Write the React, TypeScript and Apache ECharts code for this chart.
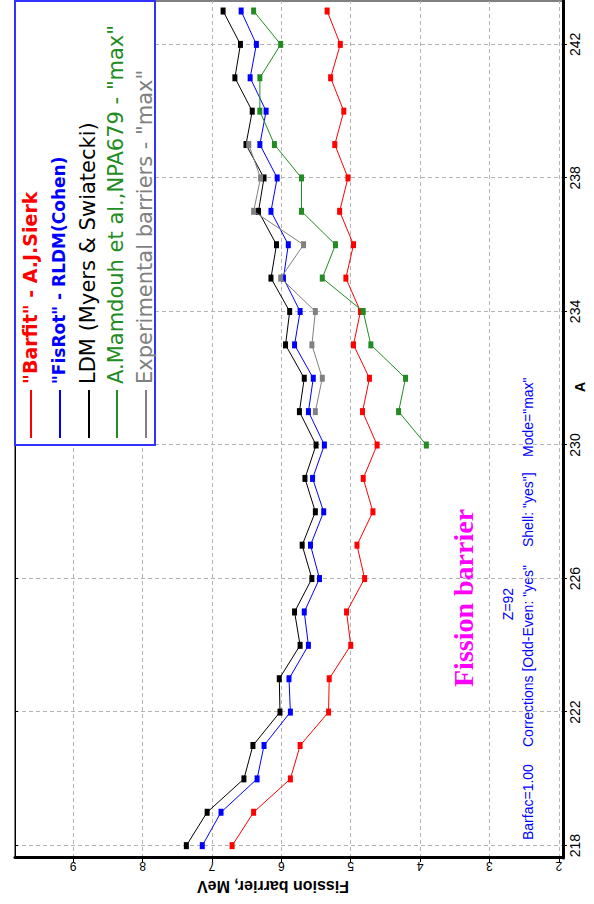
import React, { useEffect, useRef } from "react";
import * as echarts from "echarts";

// Mass numbers A (Z = 92)
const massNumbers = [218, 219, 220, 221, 222, 223, 224, 225, 226, 227, 228, 229, 230, 231, 232, 233, 234, 235, 236, 237, 238, 239, 240, 241, 242, 243];
// "Barfit" - A.J.Sierk
const barfit = [6.71, 6.40, 5.87, 5.73, 5.32, 5.31, 5.00, 5.06, 4.80, 4.91, 4.68, 4.82, 4.62, 4.83, 4.73, 4.96, 4.86, 5.07, 4.96, 5.16, 5.04, 5.23, 5.10, 5.29, 5.15, 5.34];
// "FisRot" - RLDM(Cohen)
const fisrot = [7.14, 6.87, 6.35, 6.25, 5.87, 5.89, 5.61, 5.67, 5.45, 5.58, 5.39, 5.55, 5.38, 5.61, 5.54, 5.81, 5.73, 5.97, 5.90, 6.15, 6.06, 6.31, 6.22, 6.45, 6.36, 6.58];
// LDM (Myers & Swiatecki)
const ldm = [7.37, 7.07, 6.54, 6.41, 6.02, 6.03, 5.73, 5.81, 5.56, 5.70, 5.51, 5.66, 5.50, 5.74, 5.67, 5.94, 5.88, 6.15, 6.07, 6.33, 6.25, 6.51, 6.42, 6.67, 6.59, 6.84];
// A.Mamdouh et al., NPA679
const mamdouhA = [230, 231, 232, 233, 234, 235, 236, 237, 238, 239, 240, 241, 242, 243];
const mamdouh = [3.91, 4.31, 4.21, 4.71, 4.82, 5.41, 5.22, 5.71, 5.71, 6.10, 6.31, 6.31, 6.01, 6.40];
// Experimental barriers
const expA = [231, 232, 233, 234, 235, 236, 237, 238, 239];
const experimental = [5.51, 5.41, 5.56, 5.51, 6.01, 5.68, 6.40, 6.30, 6.47];

const aTicks = [218, 222, 226, 230, 234, 238, 242];
const barrierTicks = [2, 3, 4, 5, 6, 7, 8, 9];

const seriesNames = [
  '"Barfit" - A.J.Sierk',
  '"FisRot" - RLDM(Cohen)',
  "LDM (Myers & Swiatecki)",
  'A.Mamdouh et al.,NPA679 - "max"',
  'Experimental barriers - "max"',
];
const seriesColors = ["#ff0000", "#0000ff", "#000000", "#228b22", "#808080"];

const W = 904;
const H = 594;

export default function App() {
  const ref = useRef<HTMLDivElement>(null);

  useEffect(() => {
    if (!ref.current) return;
    const chart = echarts.init(ref.current, null, { renderer: "svg" });
    const pairs = (xs: number[], ys: number[]) => xs.map((x, i) => [x, ys[i]]);
    const dataSets = [
      pairs(massNumbers, barfit),
      pairs(massNumbers, fisrot),
      pairs(massNumbers, ldm),
      pairs(mamdouhA, mamdouh),
      pairs(expA, experimental),
    ];
    const labelFont = "Liberation Sans, Arial, sans-serif";
    const legendY = [31, 60, 89, 117, 146];
    const legendSizes = [19, 17, 21, 21, 21];
    const legendElems: any[] = [
      {
        type: "rect",
        shape: { x: 459, y: 15, width: 444, height: 140 },
        style: { fill: "#ffffff", stroke: "#3333ff", lineWidth: 2 },
        z: 100,
      },
    ];
    seriesNames.forEach((name, i) => {
      legendElems.push({
        type: "line",
        shape: { x1: 466, y1: legendY[i], x2: 514, y2: legendY[i] },
        style: { stroke: seriesColors[i], lineWidth: 2 },
        z: 101,
      });
      legendElems.push({
        type: "text",
        style: {
          x: 520,
          y: legendY[i] - 1,
          text: name,
          fill: seriesColors[i],
          fontSize: legendSizes[i],
          fontWeight: i < 2 ? "bold" : "normal",
          fontFamily: "DejaVu Sans, sans-serif",
          align: "left",
          verticalAlign: "middle",
        },
        z: 101,
      });
    });

    const infoStyle = {
      fill: "#0000ff",
      fontSize: 14,
      fontFamily: labelFont,
      align: "left",
      verticalAlign: "middle",
    };

    chart.setOption({
      animation: false,
      backgroundColor: "#ffffff",
      grid: {
        left: 46,
        right: 1,
        top: 15,
        bottom: 31,
        show: true,
        borderColor: "#000000",
        borderWidth: 1,
        outerBoundsMode: "none",
      },
      xAxis: [
        {
          type: "value",
          min: 217.63,
          max: 243.3,
          position: "bottom",
          name: "A",
          nameLocation: "middle",
          nameGap: 10,
          nameMoveOverlap: false,
          nameTextStyle: {
            fontSize: 14,
            fontWeight: "bold",
            color: "#000",
            fontFamily: labelFont,
            padding: [0, 0, 0, 85],
          },
          axisLine: { show: true, onZero: false, lineStyle: { color: "#000", width: 3 } },
          axisTick: { show: true, inside: false, length: 4, customValues: aTicks, lineStyle: { color: "#000" } },
          axisLabel: {
            customValues: aTicks,
            fontSize: 14,
            color: "#000",
            fontFamily: labelFont,
            margin: 5,
          },
          splitLine: { show: true, lineStyle: { color: "#b4b4b4", type: [4, 3], width: 1 } },
        },
        {
          type: "value",
          min: 217.63,
          max: 243.3,
          position: "top",
          axisLine: { show: true, onZero: false, lineStyle: { color: "#000", width: 1 } },
          axisTick: { show: true, inside: true, length: 3, customValues: aTicks, lineStyle: { color: "#000" } },
          axisLabel: { show: false },
          splitLine: { show: false },
        },
      ],
      yAxis: {
        type: "value",
        min: 1.94,
        max: 9.84,
        position: "left",
        name: "Fission barrier, MeV",
        nameLocation: "middle",
        nameRotate: 90,
        nameGap: 20,
        nameMoveOverlap: false,
        nameTextStyle: {
          fontSize: 16,
          fontWeight: "bold",
          color: "#000",
          fontFamily: labelFont,
          padding: [0, 0, 0, 32],
        },
        axisLine: { show: true, onZero: false, lineStyle: { color: "#000", width: 3 } },
        axisTick: { show: true, inside: false, length: 4, customValues: barrierTicks, lineStyle: { color: "#000" } },
        axisLabel: {
          customValues: barrierTicks,
          rotate: 90,
          fontSize: 12,
          color: "#000",
          fontFamily: labelFont,
          margin: 2,
        },
        splitLine: { show: true, lineStyle: { color: "#b4b4b4", type: [4, 3], width: 1 } },
      },
      series: dataSets.map((d, i) => ({
        name: seriesNames[i],
        type: "line",
        data: d,
        symbol: "rect",
        symbolSize: [7, 5],
        showSymbol: true,
        lineStyle: { color: seriesColors[i], width: 1 },
        itemStyle: { color: seriesColors[i] },
        z: 2 + i,
      })),
      graphic: [
        ...legendElems,
        {
          type: "text",
          style: {
            x: 217,
            y: 463,
            text: "Fission barrier",
            fill: "#ff00ff",
            fontSize: 28,
            fontWeight: "bold",
            fontFamily: "Liberation Serif, Times New Roman, serif",
            align: "left",
            verticalAlign: "middle",
          },
        },
        { type: "text", style: { ...infoStyle, x: 300, y: 508, text: "Z=92", align: "center" } },
        { type: "text", style: { ...infoStyle, x: 64, y: 528, text: "Barfac=1.00" } },
        { type: "text", style: { ...infoStyle, x: 157, y: 528, text: 'Corrections [Odd-Even: "yes"' } },
        { type: "text", style: { ...infoStyle, x: 357, y: 528, text: 'Shell: "yes"]' } },
        { type: "text", style: { ...infoStyle, x: 447, y: 528, text: 'Mode="max"' } },
      ],
    });
    return () => chart.dispose();
  }, []);

  return (
    <div
      style={{
        position: "absolute",
        left: 0,
        top: 0,
        width: H,
        height: W,
        overflow: "hidden",
        background: "#ffffff",
      }}
    >
      <div
        ref={ref}
        style={{
          position: "absolute",
          left: 0,
          top: 0,
          width: W,
          height: H,
          transformOrigin: "0 0",
          transform: `translate(0px, ${W}px) rotate(-90deg)`,
        }}
      />
    </div>
  );
}
